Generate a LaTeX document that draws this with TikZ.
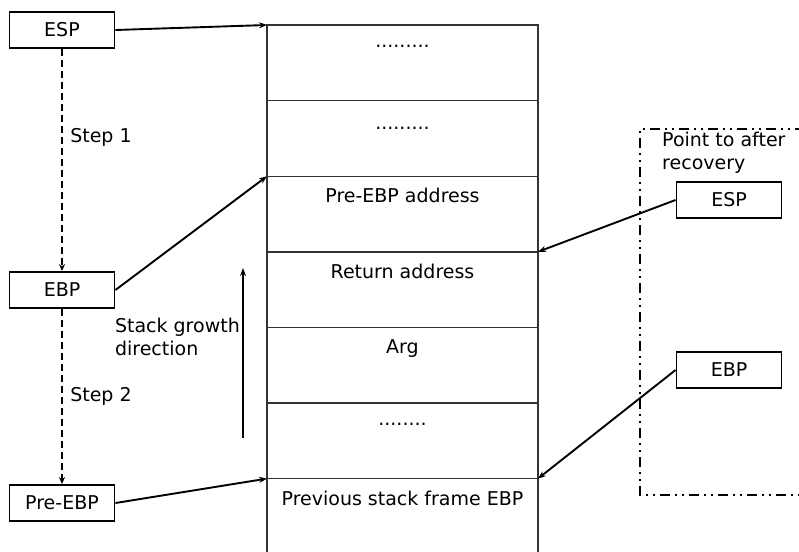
\documentclass[tikz,border=0pt]{standalone}
\usepackage{fontspec}
\setmainfont{DejaVu Sans}
\usetikzlibrary{arrows.meta, positioning}

\begin{document}
\begin{tikzpicture}[x=1pt, y=-1pt,
    font=\fontsize{19}{23}\selectfont,
    ptrbox/.style={draw, line width=1.9pt, minimum width=105pt, minimum height=36pt, inner sep=0pt},
    cell/.style={draw=black!80, line width=1.4pt, minimum width=271pt, minimum height=75.6pt, inner sep=0pt, outer sep=0pt},
    celltext/.style={anchor=north, yshift=-10pt, text height=13pt, text depth=4pt},
    ptr/.style={line width=1.9pt, -{Stealth[length=8pt,width=6pt]}},
    stepline/.style={line width=1.9pt, dash pattern=on 7pt off 4pt, -{Stealth[length=7pt,width=6pt]}},
    recovery/.style={line width=1.9pt, dash pattern=on 10pt off 5pt on 2pt off 5pt on 2pt off 5pt}
]
\useasboundingbox (0,0) rectangle (799,551);

% stack cells
\node[cell, anchor=north] (c1) at (402.5,25) {};
\node[cell, below=0pt of c1, label={[celltext, yshift=-2pt]north:.........}] (c2) {};
\node[cell, below=0pt of c2, label={[celltext]north:Pre-EBP address}] (c3) {};
\node[cell, below=0pt of c3, label={[celltext]north:Return address}] (c4) {};
\node[cell, below=0pt of c4, label={[celltext]north:Arg}] (c5) {};
\node[cell, below=0pt of c5, label={[celltext, yshift=4pt]north:........}] (c6) {};
\node[cell, below=0pt of c6, label={[celltext]north:Previous stack frame EBP}] (c7) {};
\node[celltext, yshift=4pt] (dots) at (c1.north) {.........};

% pointers on the left
\node[ptrbox] (espL) at (62,30) {ESP};
\node[ptrbox] (ebpL) at (62,290) {EBP};
\node[ptrbox] (preL) at (62,503) {Pre-EBP};

\draw[stepline] (espL) -- node[pos=0.4, right=4pt] {Step 1} (ebpL);
\draw[stepline] (ebpL) -- node[pos=0.5, right=4pt] {Step 2} (preL);

\draw[ptr] (espL.east) -- (c1.north west);
\draw[ptr] (ebpL.east) -- (c3.north west);
\draw[ptr] (preL.east) -- (c7.north west);

% growth direction
\coordinate (gbot) at (243,438);
\coordinate (gtop) at (243,268);
\draw[ptr] (gbot) -- (gtop);
\node[align=left, anchor=north east, inner sep=0pt] (growth) at (240,318) {Stack growth\\direction};

% after recovery
\draw[recovery] (805,129) -- (640,129) -- (640,495) -- (805,495);
\node[align=left, anchor=north west, inner sep=0pt] (after) at (662,132) {Point to after\\recovery};
\node[ptrbox] (espR) at (729,200) {ESP};
\node[ptrbox] (ebpR) at (729,370) {EBP};

\draw[ptr] (espR.west) -- (c4.north east);
\draw[ptr] (ebpR.west) -- (c7.north east);
\end{tikzpicture}
\end{document}
